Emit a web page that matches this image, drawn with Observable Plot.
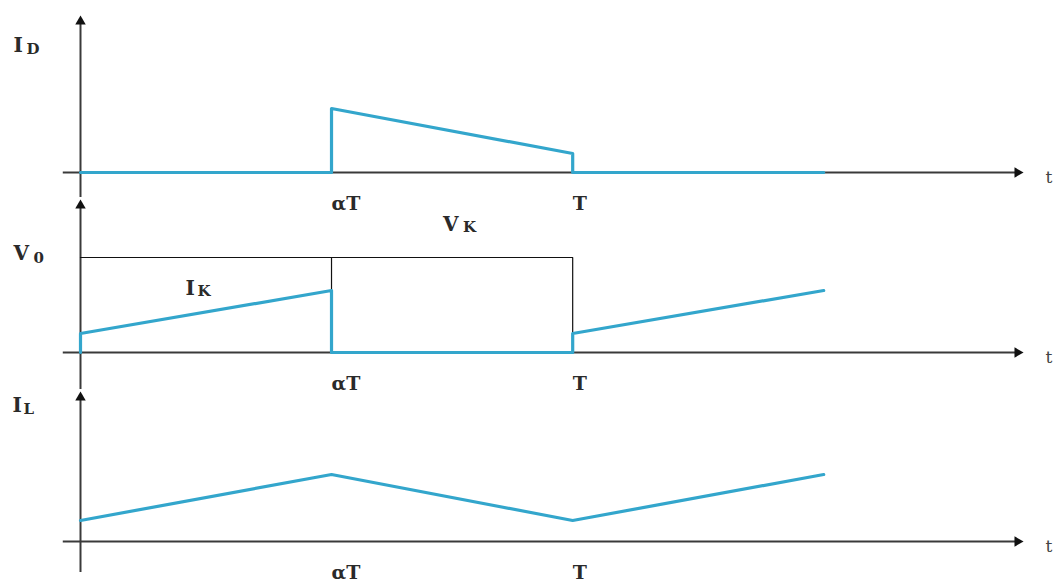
<!DOCTYPE html>
<html>
<head>
<meta charset="utf-8">
<script src="https://cdn.jsdelivr.net/npm/d3@7"></script>
<script src="https://cdn.jsdelivr.net/npm/@observablehq/plot@0.6"></script>
<style>
  html, body { margin: 0; padding: 0; background: #fff; }
  #chart svg { display: block; overflow: visible; }
</style>
</head>
<body>
<div id="chart"></div>
<script>
// Switching period normalised to T = 1; duty cycle alpha.
const alpha = 0.51;
const tEnd = 1.51;          // waveforms continue into the next on-interval
const tAxisEnd = 1.92;      // end of the time axis (arrow tip)
const V0 = 9.5;

// Diode current I_D
const idT = [0, alpha, alpha, 1, 1, tEnd];
const idV = [0, 0, 6.4, 1.9, 0, 0];

// Switch current I_K
const ikT = [0, 0, alpha, alpha, 1, 1, tEnd];
const ikV = [0, 1.9, 6.2, 0, 0, 1.9, 6.2];

// Switch voltage V_K (off-interval block) and the V0 reference level
const vkT = [alpha, alpha, 1, 1];
const vkV = [0, V0, V0, 0];
const v0T = [0, alpha];

// Inductor current I_L
const ilT = [0, alpha, 1, tEnd];
const ilV = [2.1, 6.7, 2.1, 6.7];

// Time tick labels
const tickPos = [alpha, 1];
const tickText = ["αT", "T"];

const rows = (ts, vs) => ts.map((t, i) => ({t, v: vs[i]}));

const CYAN = "#33a6cc";
const AXIS = "#3a3a3a";
const SERIF = "'DejaVu Serif', 'Liberation Serif', serif";
const INK = "#2a2a2a";

// Axes with filled arrowheads; yLow is how far the vertical axis runs below zero
function axes(yTop, yLow) {
  return [
    Plot.ruleY([0], {x1: -0.035, x2: tAxisEnd - 0.02, stroke: AXIS, strokeWidth: 2}),
    Plot.ruleX([0], {y1: yLow, y2: yTop - 0.5, stroke: AXIS, strokeWidth: 2}),
    Plot.dot([0], {x: tAxisEnd, y: 0, symbol: "triangle2", r: 5, rotate: 90, dx: -8, fill: "#111", stroke: "none"}),
    Plot.dot([0], {x: 0, y: yTop, symbol: "triangle2", r: 5, dy: 8, fill: "#111", stroke: "none"}),
    Plot.text(["t"], {x: tAxisEnd, y: 0, dx: 20, dy: 5, textAnchor: "start", fontSize: 17, fontFamily: SERIF, fill: "#444"}),
    Plot.text(tickText, {x: tickPos, y: 0, dy: 31, textAnchor: "start", fontSize: 19, fontWeight: "bold", fontFamily: SERIF, fill: INK})
  ];
}

// Letter with a subscript, drawn as two text marks
function symbolLabel(main, sub, x, y, dx, dy, subDx, subDy) {
  return [
    Plot.text([main], {x, y, dx, dy, textAnchor: "start", fontSize: 20, fontWeight: "bold", fontFamily: SERIF, fill: INK}),
    Plot.text([sub], {x, y, dx: dx + subDx, dy: dy + subDy, textAnchor: "start", fontSize: 15, fontWeight: "bold", fontFamily: SERIF, fill: INK})
  ];
}

function panel({height, marginTop, marginBottom, yTop, yLow, marks}) {
  return Plot.plot({
    width: 1064,
    height,
    marginLeft: 80,
    marginRight: 39,
    marginTop,
    marginBottom,
    x: {domain: [0, tAxisEnd], axis: null},
    y: {domain: [0, yTop], axis: null},
    style: {overflow: "visible", background: "transparent"},
    marks: [...axes(yTop, yLow), ...marks]
  });
}

const diodePanel = panel({
  height: 190, marginTop: 13, marginBottom: 18, yTop: 15.9, yLow: -2.5,
  marks: [
    Plot.line(rows(idT, idV), {x: "t", y: "v", stroke: CYAN, strokeWidth: 3.2}),
    ...symbolLabel("I", "D", 0, 12.7, -67, 0, 13, 4)
  ]
});

const switchPanel = panel({
  height: 195, marginTop: 7, marginBottom: 33, yTop: 15.5, yLow: -3.7,
  marks: [
    Plot.line(rows(v0T, [V0, V0]), {x: "t", y: "v", stroke: "#111", strokeWidth: 1.2}),
    Plot.line(rows(vkT, vkV), {x: "t", y: "v", stroke: "#111", strokeWidth: 1.2}),
    Plot.line(rows(ikT, ikV), {x: "t", y: "v", stroke: CYAN, strokeWidth: 3.2}),
    ...symbolLabel("V", "0", 0, V0, -67, -4, 20, 5),
    ...symbolLabel("I", "K", 0, 6.4, 105, 0, 12, 3),
    ...symbolLabel("V", "K", (alpha + 1) / 2, V0, -9, -33, 20, 3)
  ]
});

const inductorPanel = panel({
  height: 200, marginTop: 4, marginBottom: 44, yTop: 15.2, yLow: -3.1,
  marks: [
    Plot.line(rows(ilT, ilV), {x: "t", y: "v", stroke: CYAN, strokeWidth: 3.2}),
    ...symbolLabel("I", "L", 0, 13.55, -68, 0, 11, 3)
  ]
});

document.getElementById("chart").append(diodePanel, switchPanel, inductorPanel);
</script>
</body>
</html>
